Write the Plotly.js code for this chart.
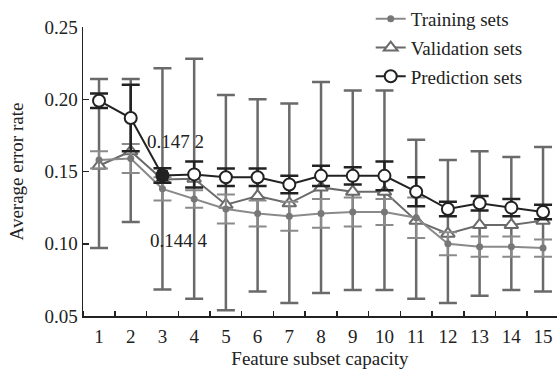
<!DOCTYPE html>
<html>
<head>
<meta charset="utf-8">
<script src="https://cdn.plot.ly/plotly-3.0.1.min.js"></script>
<style>html,body{margin:0;padding:0;background:#fff;}#chart{width:557px;height:372px;}</style>
</head>
<body>
<div id="chart"></div>
<script>
const capacity = [1,2,3,4,5,6,7,8,9,10,11,12,13,14,15];
const training = [0.158,0.159,0.138,0.131,0.124,0.121,0.119,0.121,0.122,0.122,0.118,0.100,0.098,0.098,0.097];
const trainingErr = [0.006,0.010,0.008,0.006,0.010,0.009,0.010,0.010,0.010,0.009,0.014,0.008,0.007,0.007,0.006];
const validation = [0.154,0.164,0.1444,0.145,0.127,0.133,0.128,0.139,0.136,0.136,0.116,0.107,0.113,0.113,0.116];
const validationErrPlus = [0.060,0.050,0.077,0.083,0.076,0.067,0.069,0.073,0.070,0.070,0.056,0.051,0.051,0.047,0.051];
const validationErrMinus = [0.057,0.049,0.076,0.083,0.073,0.066,0.069,0.073,0.068,0.068,0.054,0.048,0.049,0.045,0.049];
const prediction = [0.199,0.187,0.1472,0.148,0.146,0.146,0.141,0.147,0.147,0.147,0.136,0.124,0.128,0.125,0.122];
const predictionErr = [0.005,0.023,0.005,0.009,0.006,0.006,0.006,0.007,0.006,0.010,0.010,0.005,0.005,0.006,0.005];
const highlightIndex = 2;
const yTicks = [0.05,0.10,0.15,0.20,0.25];
const yTickText = ['0.05','0.10','0.15','0.20','0.25'];
const noteTexts = ['0.147 2','0.144 4'];

const font = 'Liberation Serif, Times New Roman, serif';
const ink = '#222222';

const traces = [
  {
    x: capacity, y: validation, name: 'Validation sets', legendrank: 2,
    legendgroup: 'v', mode: 'lines+markers',
    line: {color: '#6a6a6a', width: 2},
    marker: {symbol: 'triangle-up', size: 12, color: '#ffffff', line: {color: '#6a6a6a', width: 2}},
    error_y: {type: 'data', symmetric: false, array: validationErrPlus, arrayminus: validationErrMinus,
              color: '#6a6a6a', thickness: 2.5, width: 9}
  },
  {
    x: capacity, y: training, name: 'Training sets', legendrank: 1,
    legendgroup: 't', mode: 'lines+markers',
    line: {color: '#8a8a8a', width: 2},
    marker: {symbol: 'circle', size: 7, color: '#777777'},
    error_y: {type: 'data', array: trainingErr, color: '#8a8a8a', thickness: 2, width: 9}
  },
  {
    x: capacity, y: prediction, name: 'Prediction sets', legendrank: 3,
    legendgroup: 'p', mode: 'lines+markers',
    line: {color: ink, width: 2},
    marker: {symbol: 'circle', size: 12, color: '#ffffff', line: {color: ink, width: 2}},
    error_y: {type: 'data', array: predictionErr, color: ink, thickness: 2.5, width: 9}
  },
  {
    x: [capacity[highlightIndex]], y: [prediction[highlightIndex]], showlegend: false,
    mode: 'markers', marker: {symbol: 'square', size: 11, color: ink}
  }
];

const layout = {
  width: 557, height: 372,
  margin: {l: 83, r: 0, t: 26, b: 56},
  paper_bgcolor: '#ffffff', plot_bgcolor: '#ffffff',
  font: {family: font, size: 19, color: ink},
  showlegend: true,
  legend: {
    x: 0.607, y: 1.092, xanchor: 'left', yanchor: 'top',
    traceorder: 'grouped', tracegroupgap: 1,
    font: {family: font, size: 19, color: ink},
    bgcolor: 'rgba(0,0,0,0)'
  },
  xaxis: {
    range: [0.495, 15.44], tickvals: capacity, ticktext: capacity.map(String),
    ticks: '', showgrid: false, zeroline: false,
    showline: true, linecolor: ink, linewidth: 1.5,
    ticklabelstandoff: 3,
    tickfont: {family: font, size: 19, color: ink},
    minor: {ticks: 'inside', tick0: 0.5, dtick: 1, ticklen: 5, tickcolor: ink, tickwidth: 1.5, showgrid: false},
    title: {text: 'Feature subset capacity', font: {family: font, size: 19, color: ink}, standoff: 5}
  },
  yaxis: {
    range: [0.05, 0.25], tickvals: yTicks, ticktext: yTickText,
    ticks: 'inside', ticklen: 6, tickwidth: 1.5, tickcolor: ink,
    showgrid: false, zeroline: false,
    showline: true, linecolor: ink, linewidth: 1.5,
    tickfont: {family: font, size: 19, color: ink},
    title: {text: 'Average error rate', font: {family: font, size: 19, color: ink}, standoff: 16}
  },
  annotations: [
    {x: capacity[highlightIndex], y: prediction[highlightIndex], xref: 'x', yref: 'y', text: noteTexts[0],
     showarrow: false, xshift: 13, yshift: 34, font: {family: font, size: 19, color: ink}},
    {x: capacity[highlightIndex], y: validation[highlightIndex], xref: 'x', yref: 'y', text: noteTexts[1],
     showarrow: false, xshift: 17, yshift: -61, font: {family: font, size: 19, color: ink}}
  ]
};

Plotly.newPlot('chart', traces, layout, {displayModeBar: false, staticPlot: true});
</script>
</body>
</html>
